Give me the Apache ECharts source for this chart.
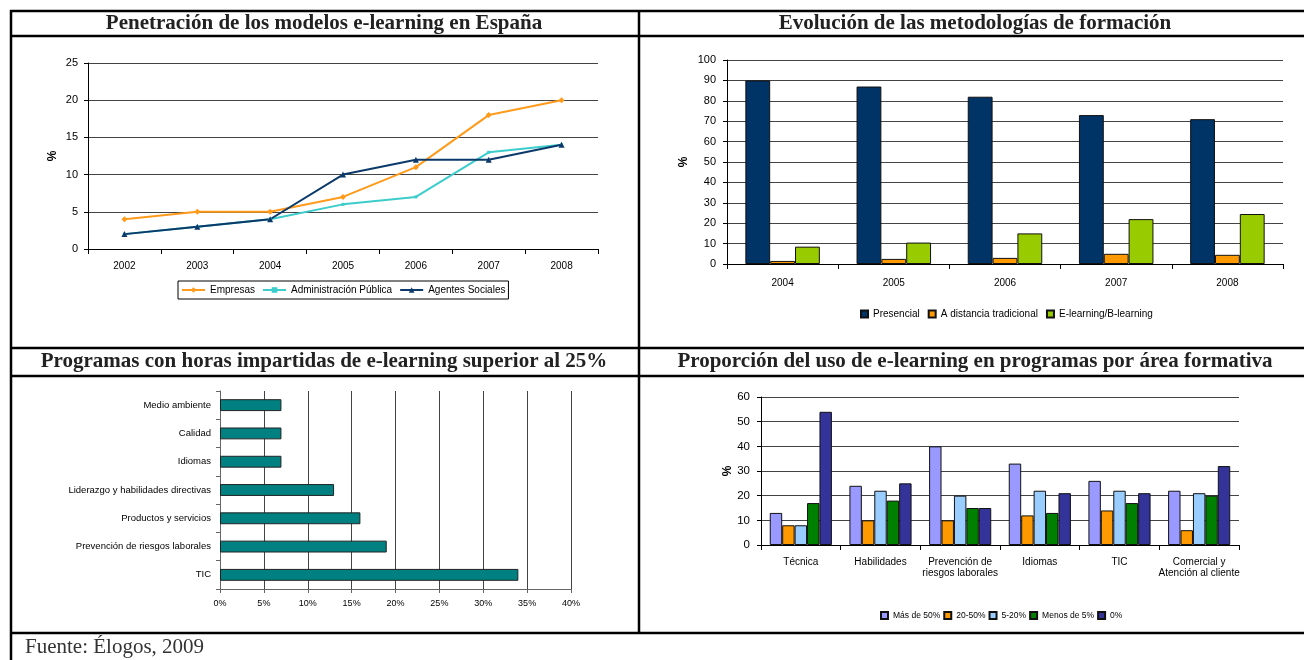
<!DOCTYPE html>
<html>
<head>
<meta charset="utf-8">
<script src="https://cdn.jsdelivr.net/npm/echarts@6/dist/echarts.min.js"></script>
<style>
  html, body { margin: 0; padding: 0; background: #fff; }
  #main { width: 1304px; height: 660px; }
</style>
</head>
<body>
<div id="main"></div>
<script>
// chart 1: penetracion e-learning
const lineYears = ['2002', '2003', '2004', '2005', '2006', '2007', '2008'];
const empresas = [4, 5, 5, 7, 11, 18, 20];
const adminPublica = [2, 3, 4, 6, 7, 13, 14];
const agentesSociales = [2, 3, 4, 10, 12, 12, 14];

// chart 2: metodologias
const barYears = ['2004', '2005', '2006', '2007', '2008'];
const presencial = [90, 87, 82, 73, 71];
const distancia = [1.5, 2.5, 3, 5, 4.5];
const eLearning = [8.5, 10.5, 15, 22, 24.5];

// chart 3: programas > 25% (top to bottom)
const programas = ['Medio ambiente', 'Calidad', 'Idiomas', 'Liderazgo y habilidades directivas',
  'Productos y servicios', 'Prevención de riesgos laborales', 'TIC'];
const programasPct = [7, 7, 7, 13, 16, 19, 34];

// chart 4: proporcion por area formativa
const areas = ['Técnica', 'Habilidades', 'Prevención de\nriesgos laborales', 'Idiomas', 'TIC',
  'Comercial y\nAtención al cliente'];
const masDe50 = [13, 24, 40, 33, 26, 22];
const de20a50 = [8, 10, 10, 12, 14, 6];
const de5a20 = [8, 22, 20, 22, 22, 21];
const menosDe5 = [17, 18, 15, 13, 17, 20];
const cero = [54, 25, 15, 21, 21, 32];

const titles = [
  'Penetración de los modelos e-learning en España',
  'Evolución de las metodologías de formación',
  'Programas con horas impartidas de e-learning superior al 25%',
  'Proporción del uso de e-learning en programas por área formativa'
];

var chart = echarts.init(document.getElementById('main'));

var sans = 'Liberation Sans';
var lbl = { color: '#000', fontFamily: sans, fontSize: 10 };
var gridLine = { show: true, lineStyle: { color: '#444', width: 1 } };
var blackAxis = { show: true, lineStyle: { color: '#000', width: 1 } };

function border(x1, y1, x2, y2) {
  return { type: 'line', z: 100, shape: { x1: x1, y1: y1, x2: x2, y2: y2 },
    style: { stroke: '#000', lineWidth: 2.5 } };
}
function heading(text, x, y) {
  return { type: 'text', z: 100, x: x, y: y,
    style: { text: text, font: 'bold 21px "Liberation Serif"', fill: '#222',
      textAlign: 'center', textVerticalAlign: 'middle' } };
}

chart.setOption({
  animation: false,
  graphic: [
    border(10, 11, 1304, 11),
    border(10, 36, 1304, 36),
    border(10, 348, 1304, 348),
    border(10, 376, 1304, 376),
    border(10, 633, 1304, 633),
    border(11, 10, 11, 660),
    border(639, 10, 639, 633),
    heading(titles[0], 324, 24),
    heading(titles[1], 975, 24),
    heading(titles[2], 324, 362),
    heading(titles[3], 975, 362),
    { type: 'text', z: 100, x: 25, y: 647,
      style: { text: 'Fuente: Élogos, 2009', font: '21px "Liberation Serif"', fill: '#333',
        textAlign: 'left', textVerticalAlign: 'middle' } }
  ],
  grid: [
    { left: 88, top: 63, width: 510, height: 186 },
    { left: 727, top: 60, width: 556, height: 204 },
    { left: 220, top: 391, width: 351, height: 198 },
    { left: 761, top: 397, width: 478, height: 148 }
  ],
  xAxis: [
    { gridIndex: 0, type: 'category', data: lineYears, axisLine: blackAxis,
      axisTick: { show: true, length: 5, lineStyle: { color: '#000' } },
      axisLabel: Object.assign({ margin: 12 }, lbl) },
    { gridIndex: 1, type: 'category', data: barYears, axisLine: blackAxis,
      axisTick: { show: true, length: 5, lineStyle: { color: '#000' } },
      axisLabel: Object.assign({ margin: 14 }, lbl) },
    { gridIndex: 2, type: 'value', min: 0, max: 40, interval: 5,
      axisLine: { show: true, lineStyle: { color: '#666' } },
      axisTick: { show: true, length: 4, lineStyle: { color: '#666' } },
      splitLine: gridLine,
      axisLabel: Object.assign({ margin: 10, formatter: '{value}%' }, lbl, { fontSize: 9 }) },
    { gridIndex: 3, type: 'category', data: areas, axisLine: blackAxis,
      axisTick: { show: true, length: 5, lineStyle: { color: '#000' } },
      axisLabel: Object.assign({ margin: 12, lineHeight: 11, interval: 0 }, lbl) }
  ],
  yAxis: [
    { gridIndex: 0, type: 'value', min: 0, max: 25, interval: 5, axisLine: blackAxis,
      axisTick: { show: true, length: 4, lineStyle: { color: '#000' } },
      splitLine: gridLine, axisLabel: Object.assign({ margin: 10 }, lbl, { fontSize: 11 }),
      name: '%', nameLocation: 'middle', nameGap: 29, nameRotate: 90,
      nameTextStyle: { fontFamily: sans, fontWeight: 'bold', fontSize: 12, color: '#000' } },
    { gridIndex: 1, type: 'value', min: 0, max: 100, interval: 10, axisLine: blackAxis,
      axisTick: { show: true, length: 4, lineStyle: { color: '#000' } },
      splitLine: gridLine, axisLabel: Object.assign({ margin: 11 }, lbl, { fontSize: 11 }),
      name: '%', nameLocation: 'middle', nameGap: 37, nameRotate: 90,
      nameTextStyle: { fontFamily: sans, fontWeight: 'bold', fontSize: 12, color: '#000' } },
    { gridIndex: 2, type: 'category', data: programas, inverse: true,
      axisLine: { show: true, lineStyle: { color: '#666' } },
      axisTick: { show: true, length: 4, lineStyle: { color: '#666' } },
      axisLabel: Object.assign({ margin: 9, interval: 0 }, lbl, { fontSize: 9.5 }) },
    { gridIndex: 3, type: 'value', min: 0, max: 60, interval: 10, axisLine: blackAxis,
      axisTick: { show: true, length: 4, lineStyle: { color: '#000' } },
      splitLine: gridLine, axisLabel: Object.assign({ margin: 11 }, lbl, { fontSize: 11.5 }),
      name: '%', nameLocation: 'middle', nameGap: 27, nameRotate: 90,
      nameTextStyle: { fontFamily: sans, fontWeight: 'bold', fontSize: 12, color: '#000' } }
  ],
  legend: [
    { data: ['Empresas', 'Administración Pública', 'Agentes Sociales'],
      left: 178, top: 281, padding: [4, 3], itemGap: 7, itemWidth: 23, itemHeight: 7,
      borderColor: '#000', borderWidth: 1, textStyle: lbl },
    { data: ['Presencial', 'A distancia tradicional', 'E-learning/B-learning'],
      left: 860, top: 309, padding: 0, itemGap: 8, itemWidth: 7, itemHeight: 7,
      icon: 'rect', textStyle: lbl },
    { data: ['Más de 50%', '20-50%', '5-20%', 'Menos de 5%', '0%'],
      left: 880, top: 611, padding: 0, itemGap: 3, itemWidth: 7, itemHeight: 7,
      icon: 'rect', textStyle: Object.assign({}, lbl, { fontSize: 8.5 }) }
  ],
  series: [
    { name: 'Empresas', type: 'line', xAxisIndex: 0, yAxisIndex: 0, data: empresas,
      color: '#FF9A1A', lineStyle: { width: 2 }, symbol: 'diamond', symbolSize: 6 },
    { name: 'Administración Pública', type: 'line', xAxisIndex: 0, yAxisIndex: 0, data: adminPublica,
      color: '#3CCCCC', lineStyle: { width: 2 }, symbol: 'rect', symbolSize: 3 },
    { name: 'Agentes Sociales', type: 'line', xAxisIndex: 0, yAxisIndex: 0, data: agentesSociales,
      color: '#0B3A6A', lineStyle: { width: 2 }, symbol: 'triangle', symbolSize: 6 },

    { name: 'Presencial', type: 'bar', xAxisIndex: 1, yAxisIndex: 1, data: presencial,
      color: '#003366', itemStyle: { borderColor: '#111', borderWidth: 1 },
      barGap: 0, barCategoryGap: '33%' },
    { name: 'A distancia tradicional', type: 'bar', xAxisIndex: 1, yAxisIndex: 1, data: distancia,
      color: '#FF9900', itemStyle: { borderColor: '#111', borderWidth: 1 },
      barGap: 0, barCategoryGap: '33%' },
    { name: 'E-learning/B-learning', type: 'bar', xAxisIndex: 1, yAxisIndex: 1, data: eLearning,
      color: '#99CC00', itemStyle: { borderColor: '#111', borderWidth: 1 },
      barGap: 0, barCategoryGap: '33%' },

    { name: 'Programas', type: 'bar', xAxisIndex: 2, yAxisIndex: 2, data: programasPct,
      color: '#008080', itemStyle: { borderColor: '#222', borderWidth: 1 },
      barCategoryGap: '58%' },

    { name: 'Más de 50%', type: 'bar', xAxisIndex: 3, yAxisIndex: 3, data: masDe50,
      color: '#9999FF', itemStyle: { borderColor: '#111', borderWidth: 1 }, barGap: 0, barCategoryGap: '22%' },
    { name: '20-50%', type: 'bar', xAxisIndex: 3, yAxisIndex: 3, data: de20a50,
      color: '#FF9900', itemStyle: { borderColor: '#111', borderWidth: 1 }, barGap: 0, barCategoryGap: '22%' },
    { name: '5-20%', type: 'bar', xAxisIndex: 3, yAxisIndex: 3, data: de5a20,
      color: '#99CCFF', itemStyle: { borderColor: '#111', borderWidth: 1 }, barGap: 0, barCategoryGap: '22%' },
    { name: 'Menos de 5%', type: 'bar', xAxisIndex: 3, yAxisIndex: 3, data: menosDe5,
      color: '#008000', itemStyle: { borderColor: '#111', borderWidth: 1 }, barGap: 0, barCategoryGap: '22%' },
    { name: '0%', type: 'bar', xAxisIndex: 3, yAxisIndex: 3, data: cero,
      color: '#333399', itemStyle: { borderColor: '#111', borderWidth: 1 }, barGap: 0, barCategoryGap: '22%' }
  ]
});
</script>
</body>
</html>
